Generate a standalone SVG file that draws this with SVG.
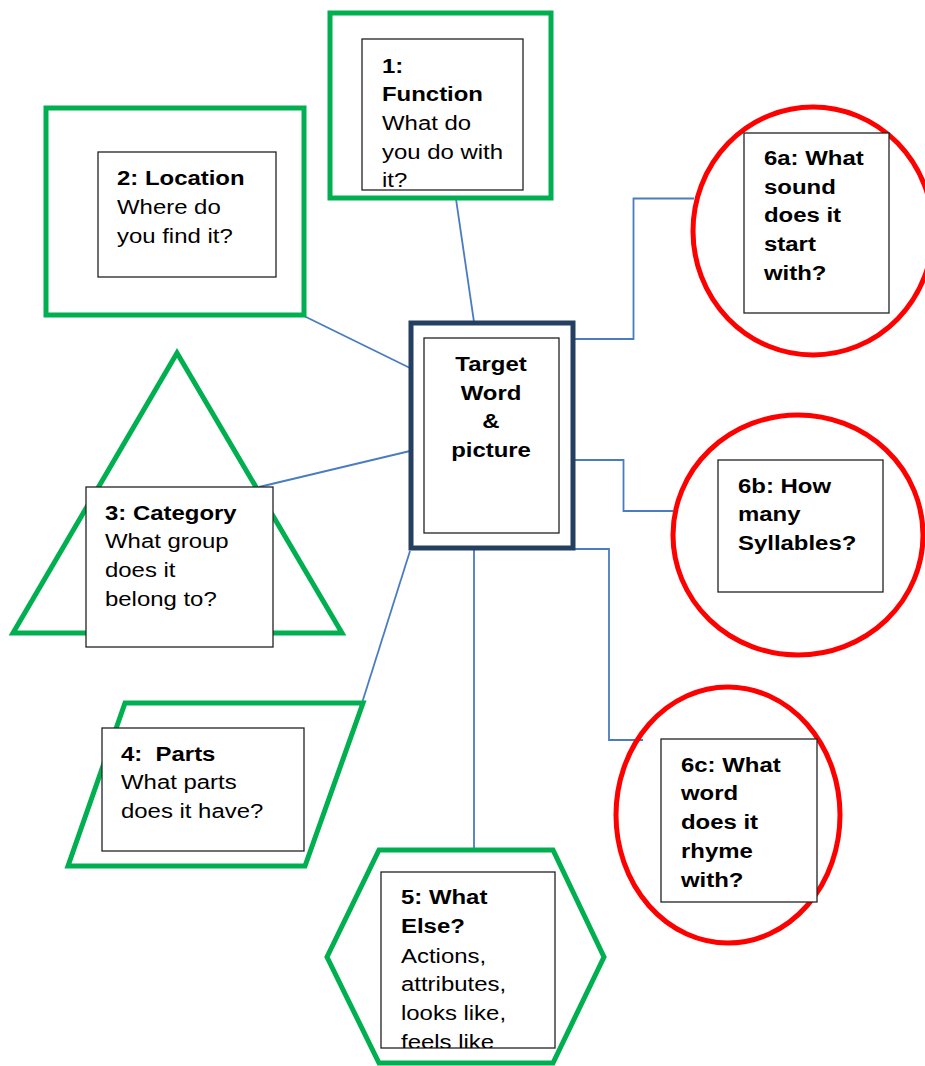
<svg xmlns="http://www.w3.org/2000/svg" width="925" height="1066" viewBox="0 0 925 1066">
<style>
.g{fill:none;stroke:#00B050;stroke-width:5}
.r{fill:none;stroke:#FF0000;stroke-width:5}
.b{fill:#fff;stroke:#222;stroke-width:1.3}
.c{fill:none;stroke:#4A7CC0;stroke-width:1.8}
text{font-family:"Liberation Sans",Arial,sans-serif;font-size:21px;fill:#000;white-space:pre}
.t{font-weight:bold}
</style>
<defs>
<clipPath id="clip5"><rect x="381" y="872" width="174" height="176"/></clipPath>
</defs>
<rect width="925" height="1066" fill="#fff"/>
<g id="connectors">
<line class="c" x1="456" y1="199" x2="474" y2="322"/>
<line class="c" x1="304" y1="316" x2="410" y2="368"/>
<line class="c" x1="259" y1="487" x2="410" y2="451"/>
<line class="c" x1="410" y1="551" x2="362" y2="703"/>
<line class="c" x1="474" y1="550" x2="474" y2="850"/>
<polyline class="c" points="574,339 633.5,339 633.5,198.5 694,198.5"/>
<polyline class="c" points="574,460 623.5,460 623.5,511 673,511"/>
<polyline class="c" points="574,549 609,549 609,740 643,740"/>
</g>
<g id="node1">
<rect class="g" x="330" y="13" width="221" height="185"/>
<rect class="b" x="362" y="39" width="161" height="151"/>
<g transform="translate(382,0) scale(1.14,1)">
<text x="0" y="73" class="t">1:</text>
<text x="0" y="101" class="t">Function</text>
<text x="0" y="130">What do</text>
<text x="0" y="159">you do with</text>
<text x="0" y="187">it?</text>
</g>
</g>
<g id="node2">
<rect class="g" x="46" y="108" width="258" height="207"/>
<rect class="b" x="98" y="152" width="178" height="125"/>
<g transform="translate(117,0) scale(1.14,1)">
<text x="0" y="185" class="t">2: Location</text>
<text x="0" y="214">Where do</text>
<text x="0" y="243">you find it?</text>
</g>
</g>
<g id="center">
<rect x="411" y="323" width="162" height="225" fill="#fff" stroke="#243F60" stroke-width="5"/>
<rect class="b" x="424" y="338" width="135" height="195"/>
<g transform="translate(491,0) scale(1.14,1)">
<text x="0" y="371" class="t" text-anchor="middle">Target</text>
<text x="0" y="400" class="t" text-anchor="middle">Word</text>
<text x="0" y="428" class="t" text-anchor="middle">&amp;</text>
<text x="0" y="457" class="t" text-anchor="middle">picture</text>
</g>
</g>
<g id="node3">
<polygon class="g" points="177,353 13,633 342,633"/>
<rect class="b" x="86" y="487" width="187" height="160"/>
<g transform="translate(105,0) scale(1.14,1)">
<text x="0" y="520" class="t">3: Category</text>
<text x="0" y="548">What group</text>
<text x="0" y="577">does it</text>
<text x="0" y="606">belong to?</text>
</g>
</g>
<g id="node4">
<polygon class="g" points="125,703 363,703 305,866 68,866"/>
<rect class="b" x="102" y="728" width="202" height="123"/>
<g transform="translate(121,0) scale(1.14,1)">
<text x="0" y="761" class="t">4:  Parts</text>
<text x="0" y="789">What parts</text>
<text x="0" y="818">does it have?</text>
</g>
</g>
<g id="node5">
<polygon class="g" points="379,850 553,850 604,957 553,1063 379,1063 327,957"/>
<rect class="b" x="381" y="872" width="174" height="176"/>
<g clip-path="url(#clip5)">
<g transform="translate(401,0) scale(1.14,1)">
<text x="0" y="904" class="t">5: What</text>
<text x="0" y="933" class="t">Else?</text>
<text x="0" y="963">Actions,</text>
<text x="0" y="991">attributes,</text>
<text x="0" y="1020">looks like,</text>
<text x="0" y="1049">feels like</text>
</g>
</g>
</g>
<g id="node6a">
<ellipse class="r" cx="813" cy="231" rx="120" ry="124"/>
<rect class="b" x="744" y="133" width="145" height="180"/>
<g transform="translate(764,0) scale(1.14,1)">
<text x="0" y="165" class="t">6a: What</text>
<text x="0" y="194" class="t">sound</text>
<text x="0" y="222" class="t">does it</text>
<text x="0" y="251" class="t">start</text>
<text x="0" y="280" class="t">with?</text>
</g>
</g>
<g id="node6b">
<ellipse class="r" cx="798" cy="535" rx="125" ry="120"/>
<rect class="b" x="718" y="460" width="165" height="132"/>
<g transform="translate(738,0) scale(1.14,1)">
<text x="0" y="493" class="t">6b: How</text>
<text x="0" y="521" class="t">many</text>
<text x="0" y="550" class="t">Syllables?</text>
</g>
</g>
<g id="node6c">
<ellipse class="r" cx="728" cy="815" rx="112" ry="128"/>
<rect class="b" x="661" y="739" width="156" height="163"/>
<g transform="translate(681,0) scale(1.14,1)">
<text x="0" y="772" class="t">6c: What</text>
<text x="0" y="800" class="t">word</text>
<text x="0" y="829" class="t">does it</text>
<text x="0" y="858" class="t">rhyme</text>
<text x="0" y="887" class="t">with?</text>
</g>
</g>
</svg>
